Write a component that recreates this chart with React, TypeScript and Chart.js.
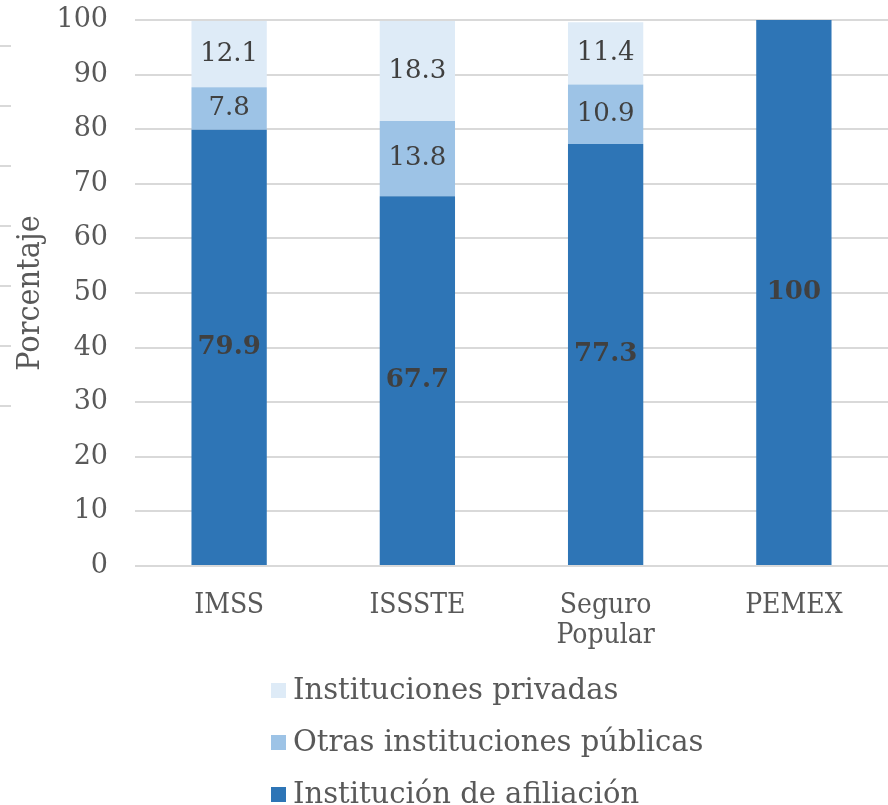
import React, { useEffect, useRef } from "react";
import { Chart, registerables } from "chart.js";

Chart.register(...registerables);

const categories: (string | string[])[] = ["IMSS", "ISSSTE", ["Seguro", "Popular"], "PEMEX"];
const afiliacion = [79.9, 67.7, 77.3, 100];
const otrasPublicas = [7.8, 13.8, 10.9, 0];
const privadas = [12.1, 18.3, 11.4, 0];
const seriesNames = ["Institución de afiliación", "Otras instituciones públicas", "Instituciones privadas"];
const seriesColors = ["#2E75B6", "#9DC3E6", "#DEEBF7"];
const yMin = 0;
const yMax = 100;
const yStep = 10;
const yTitle = "Porcentaje";

const SERIF = "'DejaVu Serif', serif";
const SERIF_C = "'DejaVu Serif Condensed', 'DejaVu Serif', serif";

const labelPlugin = {
  id: "segLabels",
  afterDatasetsDraw(chart: any) {
    const ctx = chart.ctx;
    ctx.save();
    ctx.textAlign = "center";
    ctx.textBaseline = "middle";
    ctx.fillStyle = "#404040";
    chart.data.datasets.forEach((ds: any, di: number) => {
      const meta = chart.getDatasetMeta(di);
      ctx.font = (di === 0 ? "bold " : "") + "26px " + SERIF;
      meta.data.forEach((el: any, i: number) => {
        const v = ds.data[i];
        if (!v) return;
        ctx.fillText(String(v), el.x, (el.y + el.base) / 2);
      });
    });
    ctx.restore();
  },
};

const legendPlugin = {
  id: "stackLegend",
  afterDraw(chart: any) {
    const ctx = chart.ctx;
    ctx.save();
    ctx.font = "29px " + SERIF;
    ctx.textBaseline = "middle";
    ctx.textAlign = "left";
    const n = chart.data.datasets.length;
    for (let r = 0; r < n; r++) {
      const di = n - 1 - r;
      const ds = chart.data.datasets[di];
      const y = chart.height - 115 + r * 52;
      ctx.fillStyle = ds.backgroundColor;
      ctx.fillRect(271, y - 7, 15, 15);
      ctx.fillStyle = "#595959";
      ctx.fillText(ds.label, 293, y + 1);
    }
    // faint tick marks at far left edge
    ctx.strokeStyle = "#D9D9D9";
    ctx.lineWidth = 2;
    for (let k = 0; k < 7; k++) {
      const yy = 46 + k * 60;
      ctx.beginPath();
      ctx.moveTo(0, yy);
      ctx.lineTo(11, yy);
      ctx.stroke();
    }
    ctx.restore();
  },
};

export default function App() {
  const ref = useRef<HTMLCanvasElement>(null);
  useEffect(() => {
    document.body.style.margin = "0";
    const chart = new Chart(ref.current!, {
      type: "bar",
      data: {
        labels: categories,
        datasets: [
          { label: seriesNames[0], data: afiliacion, backgroundColor: seriesColors[0] },
          { label: seriesNames[1], data: otrasPublicas, backgroundColor: seriesColors[1] },
          { label: seriesNames[2], data: privadas, backgroundColor: seriesColors[2] },
        ],
      },
      options: {
        responsive: false,
        animation: false,
        devicePixelRatio: 1,
        layout: { padding: { top: 20, right: 0, bottom: 0, left: 0 } },
        datasets: { bar: { categoryPercentage: 1, barPercentage: 0.4 } },
        plugins: { legend: { display: false }, tooltip: { enabled: false } },
        scales: {
          x: {
            stacked: true,
            grid: { display: false, drawTicks: false },
            border: { display: false },
            ticks: {
              color: "#595959",
              font: { family: SERIF_C, size: 28, lineHeight: 1.1 },
              padding: 24,
              maxRotation: 0,
              autoSkip: false,
            },
            afterFit: (s: any) => {
              s.height = 239;
            },
          },
          y: {
            stacked: true,
            min: yMin,
            max: yMax,
            grid: {
              color: "#D9D9D9",
              lineWidth: 2,
              drawTicks: true,
              tickLength: 27,
              tickColor: "rgba(0,0,0,0)",
            },
            border: { display: false },
            ticks: {
              stepSize: yStep,
              color: "#595959",
              font: { family: SERIF, size: 27 },
              padding: 0,
            },
            title: {
              display: true,
              text: yTitle,
              color: "#595959",
              font: { family: SERIF_C, size: 32 },
              padding: { top: 11, bottom: 0 },
            },
            afterFit: (s: any) => {
              s.width = 135;
            },
          },
        },
      },
      plugins: [labelPlugin, legendPlugin],
    });
    return () => chart.destroy();
  }, []);
  return (
    <div style={{ position: "absolute", left: 0, top: 0, width: 888, height: 805, background: "#fff" }}>
      <canvas ref={ref} width={888} height={805} style={{ width: 888, height: 805 }} />
    </div>
  );
}
